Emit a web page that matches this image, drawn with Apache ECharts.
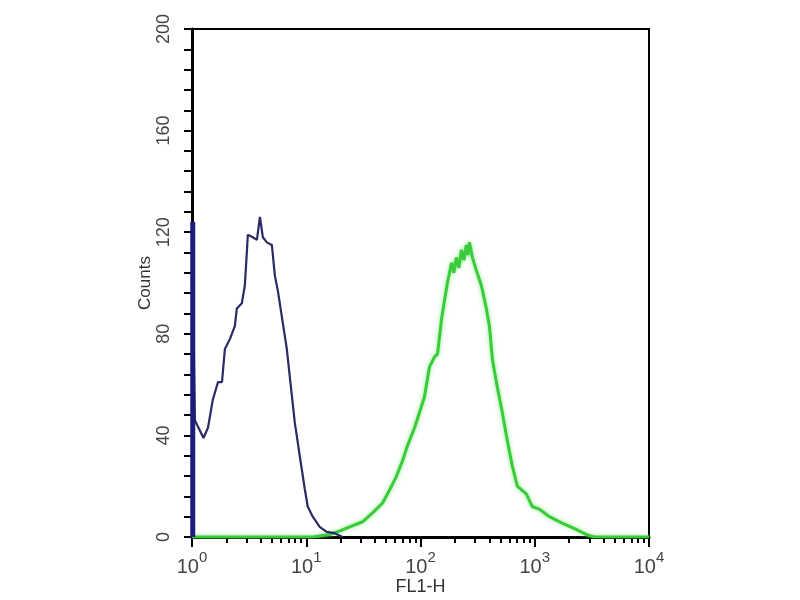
<!DOCTYPE html>
<html>
<head>
<meta charset="utf-8">
<script src="https://cdn.jsdelivr.net/npm/echarts@6/dist/echarts.min.js"></script>
<style>html,body{margin:0;padding:0;background:#fff}#c{width:800px;height:600px}</style>
</head>
<body>
<div id="c"></div>
<script>
// Data (FL1-H log scale vs Counts)
const blueX = [1.0, 1.03, 1.06, 1.26, 1.38, 1.52, 1.69, 1.83, 1.94, 2.15, 2.37, 2.47, 2.73, 2.90, 3.02, 3.08, 3.41, 3.70, 3.93, 4.17, 4.52, 5.00, 5.31, 5.64, 6.76, 7.18, 7.94, 8.77, 9.70, 10.3, 11.4, 13.1, 15.1, 17.7, 20.8];
const blueY = [124, 124, 46, 39, 43, 54, 61, 61, 74, 78, 83, 90, 92, 99, 112, 119, 118, 117, 126, 118, 116, 115, 103, 97, 74, 63, 45, 32, 19, 12, 8, 4, 2, 1.5, 0];
const spikeX = [1.015, 1.015];
const spikeY = [0, 124];
const greenX = [1, 11.4, 16.0, 20, 24.0, 31.1, 38.1, 46.6, 55.8, 61.7, 69.6, 77.0, 88.7, 98.0, 108, 120, 133, 141, 153, 162, 172, 187, 196, 206, 217, 228, 240, 252, 260, 268, 285, 308, 341, 377, 401, 426, 470, 520, 575, 636, 703, 843, 951, 1094, 1339, 1739, 2303, 2816, 3311, 10000];
const greenY = [0, 0, 1, 2.5, 4, 6, 9.5, 13.4, 20, 24, 30, 36, 43, 49, 55, 67, 71, 72, 86, 93, 100, 108, 104, 110, 106, 113, 109, 115, 111, 116, 110, 105, 99, 90, 83, 70, 59, 49, 38, 28, 20, 17, 12, 11, 8, 5.5, 3, 1, 0, 0];
const yLabelValues = [0, 40, 80, 120, 160, 200];
const xMinorTicks = [2,3,4,5,6,7,8,9,20,30,40,50,60,70,80,90,200,300,400,500,600,700,800,900,2000,3000,4000,5000,6000,7000,8000,9000];

const zip = (xs, ys) => xs.map((x, i) => [x, ys[i]]);

const chart = echarts.init(document.getElementById('c'));
chart.setOption({
  backgroundColor: '#fff',
  animation: false,
  grid: { left: 192, right: 151, top: 29, bottom: 63, outerBoundsMode: 'none', containLabel: false, show: true, borderColor: '#000', borderWidth: 2, backgroundColor: '#fff' },
  xAxis: [{
    type: 'log', logBase: 10, min: 1, max: 10000,
    name: 'FL1-H', nameLocation: 'middle', nameGap: 50, nameMoveOverlap: false,
    nameTextStyle: { fontSize: 18, color: '#333', fontFamily: 'Liberation Sans, Arial', verticalAlign: 'middle' },
    axisLine: { show: true, lineStyle: { color: '#000', width: 3 } },
    axisTick: { show: true, length: 10, lineStyle: { color: '#000', width: 2 } },
    splitLine: { show: false },
    axisLabel: {
      margin: 13,
      formatter: v => '{b|10}{s|' + Math.round(Math.log10(v)) + '}',
      rich: {
        b: { fontSize: 20, color: '#444', fontFamily: 'Liberation Sans, Arial', verticalAlign: 'bottom', lineHeight: 27 },
        s: { fontSize: 15, color: '#444', fontFamily: 'Liberation Sans, Arial', verticalAlign: 'top' }
      }
    }
  }, {
    type: 'log', logBase: 10, min: 1, max: 10000, position: 'bottom',
    axisLine: { show: false },
    axisTick: { show: true, length: 6, customValues: xMinorTicks, lineStyle: { color: '#000', width: 2 } },
    axisLabel: { show: false },
    splitLine: { show: false }
  }],
  yAxis: {
    type: 'value', min: 0, max: 200, interval: 8,
    name: 'Counts', nameLocation: 'middle', nameGap: 38, nameRotate: 90, nameMoveOverlap: false,
    nameTextStyle: { fontSize: 17, color: '#333', fontFamily: 'Liberation Sans, Arial' },
    axisLine: { show: true, lineStyle: { color: '#000', width: 3 } },
    axisTick: { show: true, length: 8, lineStyle: { color: '#000', width: 2 } },
    splitLine: { show: false },
    axisLabel: {
      rotate: 90, margin: 19, fontSize: 18, color: '#444', fontFamily: 'Liberation Sans, Arial',
      formatter: v => yLabelValues.includes(v) ? String(v) : ''
    }
  },
  series: [
    {
      type: 'line', data: zip(greenX, greenY), showSymbol: false, z: 3,
      lineStyle: { color: '#3acb3a', width: 3, shadowColor: 'rgba(110,225,110,0.8)', shadowBlur: 4 }
    },
    {
      type: 'line', data: zip(blueX, blueY), showSymbol: false, z: 4,
      lineStyle: { color: '#2a2a64', width: 2.2 }
    },
    {
      type: 'line', data: zip(spikeX, spikeY), showSymbol: false, z: 5,
      lineStyle: { color: '#1c1c7e', width: 5 }
    }
  ]
});
</script>
</body>
</html>
